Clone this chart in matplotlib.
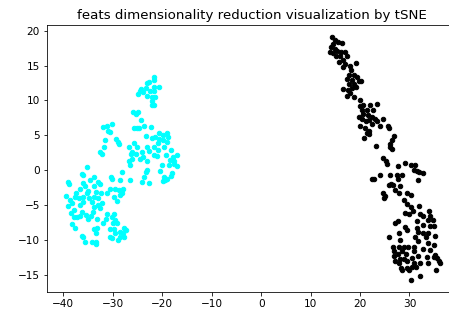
import matplotlib
matplotlib.use("Agg")
import matplotlib.pyplot as plt
import numpy as np

# Puntos del cluster cian (x, y)
cyan_x = [
    -21.6, -21.6, -20.6, -21.6, -22.6, -23.1, -23.3, -22.5, -21.6, -24.3,
    -25.0, -24.5, -23.9, -23.1, -22.1, -21.4, -22.0, -22.1, -21.6,
    -26.0, -24.8, -25.3, -24.3, -23.7, -25.8, -25.2, -24.6, -22.3, -23.2,
    -22.1, -21.4, -20.6, -20.6, -19.8, -19.1, -18.9, -19.8, -19.1, -19.6,
    -26.8, -25.8, -25.1, -26.1, -26.4, -25.4, -24.0, -23.0, -22.6, -21.6,
    -20.9, -20.9, -21.7, -19.2, -18.3, -17.1, -17.8, -18.4, -17.7, -18.7,
    -17.1, -17.7, -26.8, -26.1, -24.5, -23.8, -23.0, -21.1, -20.1, -23.0,
    -23.3, -20.4, -19.7, -19.4, -19.8, -19.1, -18.1, -18.3, -24.1, -22.6,
    -23.7, -26.5, -26.6,
    -31.9, -31.2, -30.2, -30.9, -30.5, -31.6, -29.3, -28.9, -28.7, -31.7,
    -32.6, -32.2, -35.3, -36.3, -36.1, -39.0, -38.8, -34.6, -33.7, -33.0,
    -32.6, -30.4, -30.1, -28.2, -28.6, -36.0, -35.7, -35.1, -36.6, -37.5,
    -33.7, -33.3, -32.3, -31.1, -30.5, -29.5, -28.8, -27.9, -28.2, -28.6,
    -29.7, -29.1, -39.4, -38.6, -37.6, -36.9, -36.0, -35.2, -34.9, -33.8,
    -32.9, -32.2, -33.7, -32.9, -34.3, -36.0, -36.6, -38.3, -39.0, -37.8,
    -38.5, -37.9, -37.3, -36.6, -36.3, -35.4, -34.4, -33.9, -32.6, -31.2,
    -31.3, -31.9, -33.2, -30.2, -29.7, -29.5, -30.0, -29.2, -38.3, -37.6,
    -35.1, -33.8, -33.1, -33.4, -30.5, -29.8, -29.5, -28.6, -27.8, -27.4,
    -27.9, -27.8, -28.5, -29.0, -30.5, -30.1, -36.3, -36.1, -35.6, -34.3,
    -33.4, -33.3,
]
cyan_y = [
    13.3, 12.9, 12.0, 12.0, 12.6, 12.5, 11.8, 11.3, 11.4, 11.7,
    10.9, 11.4, 11.2, 10.6, 10.5, 10.5, 9.9, 9.3, 9.4,
    8.3, 8.3, 8.1, 7.2, 6.3, 6.0, 6.0, 6.0, 6.2, 4.9,
    4.7, 4.8, 5.3, 4.5, 5.0, 5.4, 4.8, 4.4, 4.1, 3.4,
    3.4, 3.9, 3.3, 2.6, 2.3, 2.3, 2.6, 3.4, 2.8, 3.4,
    3.9, 2.9, 2.2, 2.2, 2.9, 2.2, 1.9, 1.5, 1.4, 0.7,
    0.6, 0.9, 1.4, 1.6, 1.6, 1.9, 1.4, 2.0, 0.7, 0.1,
    -0.2, -0.1, -0.9, -1.4, -1.5, -1.2, -0.4, -0.8, -1.6, -1.8,
    -0.9, -1.4, 0.7,
    6.2, 6.3, 6.7, 5.6, 5.5, 4.3, 4.5, 4.1, 3.8, 3.4,
    2.6, 2.4, 0.5, -0.5, -0.7, -1.6, -2.0, -1.4, -0.9, -1.6,
    -2.0, -0.9, -1.2, -0.2, -1.4, -1.8, -2.3, -2.9, -2.6, -3.2,
    -2.3, -3.1, -3.3, -3.3, -2.6, -2.6, -2.8, -2.6, -3.2, -3.5,
    -3.8, -4.4, -3.7, -4.3, -3.8, -4.0, -3.8, -3.3, -4.0, -3.8,
    -3.9, -4.7, -5.2, -5.0, -4.5, -4.5, -5.0, -4.7, -5.1, -5.6,
    -6.1, -6.6, -6.6, -6.5, -5.9, -6.4, -6.5, -5.9, -5.4, -6.2,
    -6.9, -7.5, -7.0, -6.6, -6.2, -7.1, -7.5, -7.5, -7.7, -8.2,
    -7.0, -8.4, -8.3, -9.0, -8.4, -8.4, -9.0, -8.8, -8.2, -8.5,
    -9.0, -9.5, -9.6, -9.9, -9.6, -9.7, -9.4, -9.6, -10.3, -10.3,
    -10.2, -10.5,
]

# Puntos del cluster negro
black_x = [
    14.3, 15.0, 15.6, 16.3, 14.6, 14.1, 15.0, 14.0, 14.6, 15.4,
    16.1, 16.9, 17.3, 15.9, 15.2, 16.5, 15.8, 16.9, 16.6, 17.9,
    19.2, 18.2, 18.7, 17.7, 17.3, 18.3, 19.4, 19.7, 20.2, 18.7,
    17.7, 16.6, 17.5, 18.3, 19.2, 18.0, 18.8, 17.3, 19.9,
    20.0, 20.7, 22.0, 23.4, 20.4, 21.4, 22.7, 20.7, 21.7, 19.7,
    20.4, 22.4, 23.1, 21.2, 21.9, 23.4, 24.7, 19.9, 21.0, 22.4,
    24.1, 25.6, 25.8, 21.4, 21.9, 20.9, 21.8, 26.8, 26.4, 26.1,
    26.0, 26.4, 23.3,
    24.7, 25.3, 25.5, 27.6, 29.0, 30.3, 31.2, 30.9, 31.5, 32.8,
    32.0, 26.0, 27.5, 28.5, 22.4, 22.8, 24.1, 27.6, 31.8, 26.2,
    26.6, 25.9, 28.1, 27.1, 24.7, 25.1, 24.9, 27.8, 29.5, 30.3,
    28.8, 29.6, 30.3,
    32.0, 34.0, 34.2, 30.8, 29.0, 30.0, 32.2, 32.7, 33.7, 34.8,
    31.6, 27.6, 27.1, 32.8, 34.2, 34.9, 29.1, 31.6, 31.8, 29.5,
    32.8, 33.8, 25.8, 27.8, 28.1, 31.2, 33.4, 35.2, 31.8, 33.7,
    34.9, 26.6, 27.8, 28.8, 29.8, 31.0, 26.8, 27.6, 28.5, 29.3,
    31.0, 32.8, 34.2, 26.8, 28.0, 28.9, 30.5, 31.8, 33.5, 35.2,
    35.5, 34.9, 27.1, 27.8, 29.5, 31.0, 32.2, 33.7, 35.9, 36.1,
    28.2, 29.5, 30.5, 31.3, 30.0, 28.4, 35.4, 32.1, 30.3,
]
black_y = [
    19.1, 18.7, 18.3, 18.2, 18.1, 17.6, 17.4, 16.9, 16.8, 17.1,
    16.9, 16.9, 16.4, 16.3, 16.4, 15.8, 15.5, 15.2, 14.8, 15.0,
    15.3, 14.3, 13.6, 13.6, 13.1, 13.0, 13.3, 12.8, 12.8, 12.4,
    12.4, 11.7, 11.5, 11.8, 12.0, 11.1, 10.5, 10.7, 10.0,
    9.2, 9.3, 9.4, 9.5, 8.6, 8.6, 8.6, 8.1, 7.9, 7.6,
    7.4, 7.6, 7.4, 7.1, 7.2, 7.1, 7.4, 6.4, 6.0, 6.6,
    6.4, 6.3, 6.0, 5.4, 5.6, 4.7, 5.2, 4.9, 4.4, 3.8,
    3.4, 3.1, 3.5,
    1.7, 1.4, 0.9, 0.6, 1.0, 0.7, 0.7, 0.1, -0.1, -0.4,
    -0.2, -0.6, -0.6, -0.6, -1.3, -1.3, -0.6, -1.2, -1.4, -1.9,
    -2.1, -2.1, -2.3, -2.8, -3.2, -3.7, -4.0, -3.3, -3.2, -3.5,
    -4.2, -4.8, -5.3,
    -5.1, -5.8, -6.5, -5.8, -6.1, -6.2, -6.2, -6.5, -7.1, -7.1,
    -7.2, -7.3, -7.5, -7.8, -8.0, -8.0, -8.1, -8.3, -8.8, -8.5,
    -8.9, -8.9, -9.5, -9.0, -9.9, -9.6, -9.5, -9.4, -10.1, -10.4,
    -10.7, -11.0, -10.9, -10.9, -11.0, -11.0, -11.6, -11.9, -11.5, -12.0,
    -11.5, -11.3, -11.4, -12.3, -12.7, -12.7, -12.6, -12.3, -12.4, -12.1,
    -12.6, -12.4, -13.0, -13.3, -13.0, -13.3, -13.3, -13.3, -12.9, -13.3,
    -14.0, -14.0, -13.8, -13.8, -14.3, -14.3, -14.3, -15.1, -15.7,
]

fig = plt.figure(figsize=(449 / 72, 318 / 72), dpi=72)
ax = fig.add_axes([0.1047, 0.0818, 0.913, 0.8396])

ax.scatter(cyan_x, cyan_y, c="cyan", s=20)
ax.scatter(black_x, black_y, c="black", s=20)

ax.set_xlim(-43.3, 39.6)
ax.set_ylim(-17.4, 20.8)
ax.set_xticks(np.arange(-40, 31, 10))
ax.set_yticks(np.arange(-15, 21, 5))
ax.tick_params(labelsize=10.5)
ax.set_title("feats dimensionality reduction visualization by tSNE", fontsize=13.4)

fig.savefig("out.png", dpi=72)
